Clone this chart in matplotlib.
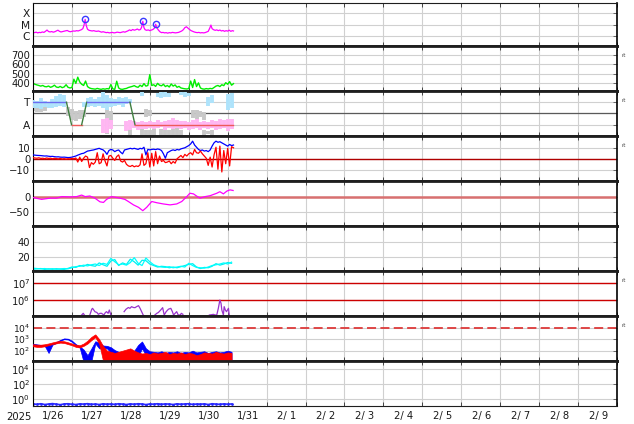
import numpy as np
import matplotlib
matplotlib.use("Agg")
import matplotlib.pyplot as plt
import matplotlib.transforms as mtransforms
from matplotlib.ticker import NullLocator

NAN = np.nan

# ─── Asse tempo: giorni dal 2025-01-26 00:00 ────────────────────────────────
XMAX = 15
year_label = "2025"
day_labels = ["1/26", "1/27", "1/28", "1/29", "1/30", "1/31", "2/ 1", "2/ 2",
              "2/ 3", "2/ 4", "2/ 5", "2/ 6", "2/ 7", "2/ 8", "2/ 9"]

# ─── 1. Raggi X (unità 1e-6 W/m2) ───────────────────────────────────────────
xray_t = [0.00, 0.04, 0.08, 0.12, 0.16, 0.20, 0.24, 0.28, 0.32, 0.36, 0.40, 0.44,
          0.48, 0.52, 0.56, 0.60, 0.64, 0.68, 0.72, 0.76, 0.80, 0.84, 0.88, 0.92,
          0.96, 1.00, 1.04, 1.08, 1.12, 1.16, 1.20, 1.24, 1.28, 1.31, 1.34, 1.37,
          1.40, 1.44, 1.48, 1.52, 1.56, 1.60, 1.64, 1.68, 1.72, 1.76, 1.80, 1.84,
          1.88, 1.92, 1.96, 2.00, 2.04, 2.08, 2.12, 2.16, 2.20, 2.24, 2.28, 2.32,
          2.36, 2.40, 2.44, 2.48, 2.52, 2.56, 2.60, 2.64, 2.68, 2.72, 2.76, 2.79,
          2.82, 2.85, 2.88, 2.92, 2.96, 3.00, 3.04, 3.08, 3.12, 3.15, 3.18, 3.22,
          3.26, 3.30, 3.34, 3.38, 3.42, 3.46, 3.50, 3.54, 3.58, 3.62, 3.66, 3.70,
          3.74, 3.78, 3.82, 3.86, 3.90, 3.94, 3.98, 4.02, 4.06, 4.10, 4.14, 4.18,
          4.22, 4.26, 4.30, 4.34, 4.38, 4.42, 4.46, 4.50, 4.54, 4.57, 4.60, 4.64,
          4.68, 4.72, 4.76, 4.80, 4.84, 4.88, 4.92, 4.96, 5.00, 5.04, 5.08, 5.12,
          5.15]
xray_f = [2.1, 2.0, 2.2, 1.9, 2.1, 2.0, 2.3, 2.1, 2.6, 3.4, 2.5, 2.3,
          2.5, 2.2, 2.4, 2.8, 3.3, 2.6, 2.3, 2.5, 2.7, 2.9, 3.1, 2.6,
          2.4, 2.6, 2.8, 2.7, 3.0, 2.8, 3.2, 3.6, 4.5, 9.0, 30.0, 8.0,
          4.0, 3.2, 3.0, 2.8, 3.0, 2.7, 2.6, 2.8, 2.5, 2.2, 2.4, 2.2,
          2.0, 2.1, 1.9, 2.0, 2.1, 1.9, 2.0, 2.2, 2.1, 2.0, 2.2, 2.4,
          2.2, 2.5, 2.9, 3.5, 3.0, 3.8, 3.3, 3.6, 4.2, 3.4, 3.8, 6.0,
          20.0, 5.5, 3.6, 3.2, 3.5, 3.0, 3.4, 3.8, 5.0, 11.0, 5.5, 3.4,
          2.4, 2.0, 2.1, 1.9, 2.0, 1.8, 2.0, 1.9, 2.1, 2.0, 1.9, 2.0,
          2.1, 2.4, 2.8, 3.6, 5.5, 6.6, 5.0, 3.8, 3.0, 2.6, 2.3, 2.1,
          2.0, 2.1, 1.9, 2.0, 1.9, 2.0, 2.3, 2.6, 5.0, 9.3, 4.5, 3.6,
          3.2, 3.5, 3.0, 3.4, 2.8, 3.1, 2.6, 3.0, 2.7, 3.3, 2.6, 3.0,
          2.8]
flare_t = [1.34, 2.83, 3.16]
flare_f = [30.0, 20.0, 11.0]

# ─── 2. Velocità vento solare (km/s), passo 0.05 giorni ─────────────────────
vsw = [395, 385, 378, 372, 365, 372, 360, 358, 366, 352, 360, 375, 355, 350, 362, 348, 356, 380, 352, 345,
       350, 440, 395, 462, 410, 385, 372, 420, 360, 345, 338, 335, 332, 340, 334, 330, 336, 332, 338, 334,
       382, 335, 330, 418, 345, 332, 330, 336, 340, 350, 356, 362, 370, 358, 352, 375, 360, 392, 365, 372,
       490, 372, 380, 362, 395, 375, 368, 385, 360, 372, 355, 388, 365, 378, 352, 362, 345, 340, 336, 334,
       338, 420, 350, 436, 360, 400, 345, 335, 332, 338, 334, 340, 336, 350, 365, 372, 360, 380, 370, 402,
       385, 414, 375, 392]

# ─── 3. Settore IMF (T = +1, A = -1), passo 0.1 giorni ──────────────────────
tow_lo = [0.45, 0.5, 0.4, 0.55, 0.5, 0.45, 0.6, 0.7, 0.55, NAN, NAN, NAN, NAN, 0.6, 0.55, 0.65, 0.6, 0.7,
          0.5, 0.3, 0.6, 0.7, 0.75, 0.6, 0.8, 0.9, NAN, NAN, 1.55, NAN, NAN, NAN, 1.45, 1.4, 1.5, 1.45,
          NAN, NAN, 1.6, 1.5, 1.55, NAN, NAN, NAN, NAN, 0.7, 0.9, NAN, NAN, NAN, 0.35, 0.5]
tow_hi = [1.2, 1.1, 1.35, 1.15, 1.05, 1.3, 1.55, 1.7, 1.6, NAN, NAN, NAN, NAN, 1.0, 1.35, 1.5, 1.3, 1.45,
          1.9, 1.6, 1.4, 1.3, 1.5, 1.35, 1.5, 1.3, NAN, NAN, 1.9, NAN, NAN, NAN, 1.85, 1.95, 1.9, 1.8,
          NAN, NAN, 1.95, 1.9, 1.85, NAN, NAN, NAN, NAN, 1.5, 1.6, NAN, NAN, NAN, 1.7, 1.8]
awy_lo = [NAN] * 18 + [-1.7, -1.75, -1.4, NAN, NAN, NAN, -1.6, -1.5, -1.3, -1.5, -1.35, -1.4, -1.25,
                       -1.4, -1.3, -1.2, -1.45, -1.3, -1.35, -1.25, -1.4, -1.3, -1.5, -1.35, -1.3, -1.45,
                       -1.3, -1.4, -1.25, -1.5, -1.35, -1.3, -1.55, -1.4]
awy_hi = [NAN] * 18 + [-0.5, -0.4, -0.6, NAN, NAN, NAN, -0.7, -0.6, -0.7, -0.8, -0.65, -0.75, -0.7,
                       -0.8, -0.6, -0.75, -0.7, -0.55, -0.4, -0.6, -0.7, -0.65, -0.8, -0.6, -0.5, -0.75,
                       -0.7, -0.8, -0.6, -0.7, -0.5, -0.6, -0.45, -0.5]
gry_lo = [0.2, 0.15, 0.1, 0.25, NAN, NAN, NAN, NAN, NAN, -0.2, -0.6, -0.7, -0.5, -0.3, NAN, NAN, NAN,
          NAN, NAN, -1.8, -0.9, NAN, NAN, NAN, NAN, NAN, NAN, NAN, NAN, -0.3, -0.2, NAN, NAN, NAN, NAN,
          NAN, NAN, NAN, NAN, NAN, NAN, -0.4, -0.5, -0.3, -0.6, NAN, NAN, NAN, NAN, NAN, NAN, NAN]
gry_hi = [0.7, 0.6, 0.5, 0.6, NAN, NAN, NAN, NAN, NAN, 0.6, 0.4, 0.2, 0.35, 0.3, NAN, NAN, NAN,
          NAN, NAN, 0.4, 0.2, NAN, NAN, NAN, NAN, NAN, NAN, NAN, NAN, 0.4, 0.3, NAN, NAN, NAN, NAN,
          NAN, NAN, NAN, NAN, NAN, NAN, 0.3, 0.35, 0.25, 0.1, NAN, NAN, NAN, NAN, NAN, NAN, NAN]
gry2_lo = [NAN] * 25 + [-1.9, NAN, NAN, -1.95, -1.9, -1.95, -1.9, NAN, -1.95, -1.9, -1.95, -1.9,
                        -1.95, -1.9, NAN, NAN, NAN, NAN, NAN, -1.9, -1.85, -1.9, NAN, NAN, NAN, NAN, NAN]
gry2_hi = [NAN] * 25 + [-1.4, NAN, NAN, -1.4, -1.5, -1.45, -1.4, NAN, -1.35, -1.3, -1.45, -1.4,
                        -1.3, -1.45, NAN, NAN, NAN, NAN, NAN, -1.5, -1.55, -1.5, NAN, NAN, NAN, NAN, NAN]
sector_t = [0.0, 0.86, 0.99, 1.25, 1.38, 2.49, 2.62, 5.14]
sector_v = [1, 1, -1, -1, 1, 1, -1, -1]

# ─── 4. IMF Bt / Bz (nT), passo 0.05 giorni ─────────────────────────────────
bt = [4.0, 3.8, 3.6, 3.5, 3.4, 3.2, 3.0, 3.1, 2.8, 2.6, 2.7, 2.4, 2.2, 2.3, 2.0, 1.9, 2.0, 1.8, 1.6, 1.7,
      2.0, 2.5, 3.0, 3.8, 4.5, 5.2, 5.5, 6.5, 7.5, 7.8, 8.2, 8.5, 9.0, 9.5, 10.0, 9.2, 8.6, 7.0, 4.5, 8.0,
      9.0, 8.5, 7.0, 8.0, 8.5, 6.5, 5.0, 8.5, 9.0, 9.5, 10.0, 9.5, 10.0, 9.5, 9.0, 10.0, 9.5, 11.0, 4.0, 9.0,
      8.6, 9.0, 9.2, 8.8, 9.4, 9.0, 8.0, 5.0, 1.0, 6.0, 7.0, 8.0, 8.6, 8.0, 9.0, 8.5, 9.5, 10.0, 10.5, 11.5,
      12.5, 14.0, 16.5, 13.0, 11.0, 9.0, 8.0, 8.5, 7.5, 8.0, 7.0, 8.5, 12.0, 15.0, 16.5, 15.5, 16.0, 15.0, 14.0, 13.0,
      12.0, 13.5, 12.5, 13.0]
bz = [1.5, 1.2, 1.0, 1.4, 0.8, 1.0, 0.6, 1.2, 0.8, 1.0, 0.5, 0.9, 0.7, 0.4, 0.8, 0.3, 0.6, 0.2, 0.5, 0.4,
      0.8, 0.5, 1.2, -2.5, 2.0, -2.0, 1.0, 3.0, 2.0, -7.5, -3.0, -4.5, -2.5, 6.0, -4.0, -3.0, 5.0, -1.5, -6.0, 3.0,
      3.5, 1.0, -1.0, 2.5, 4.0, -1.5, -2.5, -1.0, -4.5, -6.0, -6.5, -5.5, -6.8, -6.0, -6.5, -5.0, 5.0, -5.5, -4.0, 6.0,
      -7.0, 5.5, -6.0, 7.0, -4.0, 3.0, -2.0, -1.0, -3.0, -2.5, -1.5, -4.0, -2.0, -3.5, 0.5, 2.0, 3.5, 1.5, 4.5, 3.0,
      5.0, 6.0, 4.0, 9.0, 6.0, 5.5, 7.5, 5.0, 3.0, 1.0, -5.5, 2.0, -7.0, 4.0, 11.0, -9.0, 12.0, -11.5, 8.0, -4.0,
      10.0, -6.0, 11.5, 10.5]

# ─── 5. Dst (nT) ────────────────────────────────────────────────────────────
dst_t = [0.00, 0.22, 0.44, 0.61, 0.74, 0.95, 1.12, 1.25, 1.34, 1.46, 1.59, 1.72, 1.81, 1.89, 2.02,
         2.11, 2.23, 2.36, 2.45, 2.58, 2.71, 2.82, 2.92, 3.05, 3.18, 3.35, 3.52, 3.69, 3.82, 3.95,
         4.03, 4.12, 4.20, 4.29, 4.42, 4.55, 4.72, 4.80, 4.89, 4.98, 5.06, 5.14]
dst_v = [-3, -9, -5, -5, 0, -1, 0, 5, 0, 2, -5, -17, -19, -9, 0,
         -2, -5, -9, -16, -27, -35, -46, -35, -16, -20, -24, -27, -24, -16, 0,
         11, 9, 2, -5, 0, 3, 11, 16, 9, 18, 22, 20]

# ─── 6. Indice (due tracce ciano), passo 0.1 giorni ─────────────────────────
cyan_a = [5.5, 5.0, 4.5, 5.0, 4.2, 4.8, 4.0, 4.5, 5.0, 4.6,
          6.0, 7.5, 8.0, 9.5, 8.5, 10.0, 11.0, 9.0, 12.0, 10.5,
          18.5, 14.0, 10.0, 11.0, 9.5, 13.0, 19.5, 12.0, 9.0, 19.0,
          14.0, 10.0, 8.0, 7.0, 6.5, 7.5, 6.0, 7.0, 8.0, 7.0,
          12.0, 9.0, 6.5, 6.0, 5.5, 7.0, 9.0, 10.0, 11.0, 12.5,
          11.0, 13.5]
cyan_b = [4.0, 4.5, 5.0, 3.8, 4.6, 4.0, 4.8, 4.2, 3.8, 5.2,
          7.0, 6.5, 9.0, 8.0, 10.5, 9.0, 8.0, 12.5, 10.0, 8.0,
          15.0, 17.0, 9.0, 12.5, 10.5, 17.5, 14.0, 9.5, 16.0, 15.5,
          11.0, 9.0, 7.0, 8.0, 7.5, 6.0, 7.0, 6.0, 7.5, 9.0,
          10.5, 11.5, 7.0, 5.0, 6.5, 6.0, 8.0, 11.5, 9.5, 11.0,
          13.0, 12.0]

# ─── 7. Flusso elettroni (log10) ────────────────────────────────────────────
elec_t = [1.25, 1.29, 1.32, NAN,
          1.46, 1.51, 1.53, 1.59, 1.64, 1.68, 1.72, 1.76, 1.82, 1.86, 1.89, 1.93, 1.96, 2.00, NAN,
          2.34, 2.39, 2.45, 2.49, 2.53, 2.58, 2.62, 2.66, 2.71, 2.75, 2.79, 2.83, 2.88, NAN,
          3.13, 3.18, 3.22, 3.28, 3.33, 3.37, 3.42, 3.48, 3.54, 3.58, 3.61, 3.65, 3.69, 3.73, 3.78,
          3.81, 3.85, NAN,
          4.53, 4.59, 4.63, 4.68, 4.72, 4.76, 4.80, 4.83, 4.85, 4.89, 4.91, 4.94, 4.97, 5.02, 5.04]
elec_log = [5.1, 5.2, 5.1, NAN,
            5.1, 5.45, 5.5, 5.3, 5.25, 5.14, 5.2, 5.2, 5.1, 5.25, 5.3, 5.2, 5.4, 5.1, NAN,
            5.3, 5.45, 5.55, 5.5, 5.6, 5.55, 5.54, 5.6, 5.66, 5.5, 5.3, 5.1, 5.0, NAN,
            5.1, 5.2, 5.25, 5.4, 5.54, 5.1, 5.3, 5.45, 5.5, 5.3, 5.1, 5.2, 5.3, 5.1, 5.1,
            5.2, 5.14, NAN,
            5.1, 5.12, 5.14, 5.1, 5.1, 5.5, 6.0, 5.8, 5.4, 5.1, 5.6, 5.4, 5.3, 5.5, 5.1]

# ─── 8. Flusso (log10), inviluppo min/max, passo 0.1 giorni ─────────────────
f8_blue_lo = [2.52, 2.47, 2.42, 2.42, 1.8, 2.52, 2.67, 2.87, 3.0, 2.97, 2.77, 2.47, 2.27, 1.0, 1.0, 1.1,
              2.62, 2.2, 2.22, 2.2, 1.8, 1.5, 1.0, 1.0, 1.1, 1.0, 1.2, 1.5, 2.2, 1.6, 1.2,
              1.0, 1.2, 1.0, 1.1, 1.0, 1.3, 1.0, 1.1, 1.0, 1.2, 1.0, 1.1, 1.0, 1.2, 1.0, 1.1,
              1.0, 1.2, 1.0, 1.1, 1.0]
f8_blue_hi = [2.6, 2.55, 2.5, 2.5, 2.5, 2.6, 2.76, 2.94, 3.07, 3.04, 2.87, 2.57, 2.37, 2.1, 1.6, 2.2,
              2.82, 2.7, 2.45, 2.42, 2.3, 2.05, 1.9, 1.8, 1.85, 1.9, 2.0, 2.5, 2.8, 2.2, 1.95,
              1.9, 1.85, 1.95, 1.8, 1.9, 1.85, 1.95, 1.8, 1.9, 1.85, 2.0, 1.85, 1.9, 1.95, 1.8, 1.9,
              1.95, 1.85, 1.9, 2.0, 1.9]
f8_red_lo = [2.38, 2.33, 2.33, 2.38, 2.48, 2.57, 2.64, 2.7, 2.67, 2.57, 2.47, 2.33, 2.28, 2.42, 2.62, 2.92,
             3.17, 2.6, 1.1, 1.0, 1.0, 1.0, 1.05, 1.0, 1.0, 1.1, 1.0, 1.0, 1.05, 1.0, 1.1,
             1.0, 1.0, 1.15, 1.0, 1.05, 1.0, 1.1, 1.0, 1.0, 1.2, 1.0, 1.1, 1.2, 1.0, 1.05, 1.0,
             1.1, 1.0, 1.05, 1.0, 1.1]
f8_red_hi = [2.56, 2.52, 2.52, 2.56, 2.63, 2.72, 2.8, 2.85, 2.82, 2.73, 2.62, 2.52, 2.47, 2.62, 2.87, 3.2,
             3.42, 3.0, 2.4, 2.0, 1.9, 1.8, 1.9, 2.0, 2.1, 2.2, 2.0, 1.85, 1.75, 1.8, 1.7,
             1.85, 1.75, 1.8, 1.9, 1.7, 1.8, 1.75, 1.85, 1.7, 1.8, 1.75, 1.6, 1.7, 1.85, 1.8, 1.75,
             1.9, 1.8, 1.75, 1.85, 1.8]

# ─── 9. Flusso protoni (log10), passo 0.1 giorni ────────────────────────────
prot_log = [-0.62, -0.68, -0.6, -0.7, -0.64, -0.58, -0.66, -0.72, -0.63, -0.6, -0.67, -0.7, -0.62,
            -0.65, -0.59, -0.68, -0.64, -0.7, -0.61, -0.66, -0.63, -0.69, -0.6, -0.65, -0.7, -0.62,
            -0.67, -0.6, -0.64, -0.71, -0.63, -0.66, -0.6, -0.68, -0.62, -0.65, -0.7, -0.61, -0.67,
            -0.63, -0.6, -0.69, -0.64, -0.66, -0.62, -0.7, -0.6, -0.65, -0.68, -0.62, -0.66, -0.63]

# ─── Figura ─────────────────────────────────────────────────────────────────
W, H = 634, 424
EDGES = [3, 46, 91, 136, 181, 226, 271, 316, 361, 406]
X0, X1 = 33, 617
FS = 7.2
FS_LOG = 6.6
GRID = "#d0d0d0"
plt.rcParams["font.family"] = "DejaVu Sans"

fig = plt.figure(figsize=(W / 100, H / 100), dpi=100)
axes = []
for i in range(9):
    top, bot = EDGES[i], EDGES[i + 1]
    ax = fig.add_axes([X0 / W, 1 - bot / H, (X1 - X0) / W, (bot - top) / H])
    ax.set_xlim(0, XMAX)
    ax.set_xticks(range(0, XMAX + 1))
    ax.xaxis.set_minor_locator(NullLocator())
    ax.tick_params(axis="x", direction="in", length=3, width=0.7, color="#444444",
                   top=True, bottom=True, labelbottom=False)
    ax.tick_params(axis="y", which="both", direction="in", length=3, width=0.7,
                   color="#666666", left=False, right=True, labelsize=FS,
                   labelcolor="#1a1a1a", pad=2)
    ax.grid(True, axis="both", color=GRID, lw=0.8, zorder=0)
    ax.set_axisbelow(True)
    for side in ("top", "bottom"):
        ax.spines[side].set_color("#1e1e1e")
    ax.spines["top"].set_linewidth(2.0 if i > 0 else 0.8)
    ax.spines["bottom"].set_linewidth(2.0 if i < 8 else 0.8)
    ax.spines["left"].set_linewidth(0.8)
    ax.spines["right"].set_linewidth(1.2)
    axes.append(ax)

t05 = np.arange(len(vsw)) * 0.05
t10 = np.arange(len(cyan_a)) * 0.1

# 1 — raggi X
ax = axes[0]
ax.set_yscale("log")
ax.set_ylim(10 ** -6.88, 10 ** -3.08)
ax.yaxis.set_minor_locator(NullLocator())
ax.set_yticks([1e-6, 1e-5, 1e-4])
ax.set_yticklabels(["C", "M", "X"], fontsize=FS + 0.5)
ax.plot(xray_t, np.array(xray_f) * 1e-6, color="#ff00ff", lw=0.9)
ax.plot(flare_t, np.array(flare_f) * 1e-6, "o", ms=4.5, mfc="none", mec="#3a3aff", mew=1.0)

# 2 — velocità vento solare
ax = axes[1]
ax.set_ylim(312, 800)
ax.set_yticks([400, 500, 600, 700])
ax.plot(t05, vsw, color="#00ee00", lw=1.0)

# 3 — settore IMF
ax = axes[2]
ax.set_ylim(-2, 2)
ax.set_yticks([1, 0, -1])
ax.set_yticklabels(["T", "", "A"], fontsize=FS + 0.5)
ax.axhline(0, color="#5a5a5a", lw=0.9, zorder=2)
ax.vlines(t10, gry_lo, gry_hi, colors="#c8c8c8", lw=2.8, zorder=2)
ax.vlines(t10, gry2_lo, gry2_hi, colors="#c8c8c8", lw=2.8, zorder=2)
ax.vlines(t10, awy_lo, awy_hi, colors="#ffb6f2", lw=2.8, zorder=3)
ax.vlines(t10, tow_lo, tow_hi, colors="#aee3fb", lw=2.8, zorder=3)
for j in range(len(sector_t) - 1):
    a, b = sector_v[j], sector_v[j + 1]
    col = "#6c6cf0" if a == b == 1 else ("#ee5a5a" if a == b == -1 else "#3f7f3f")
    ax.plot(sector_t[j:j + 2], sector_v[j:j + 2], color=col, lw=1.0, zorder=4)

# 4 — IMF
ax = axes[3]
ax.set_ylim(-19.7, 21.2)
ax.set_yticks([10, 0, -10])
ax.axhline(0, color="#b00000", lw=1.0, zorder=2)
ax.plot(t05, bt, color="#0000ff", lw=0.9, zorder=3)
ax.plot(t05, bz, color="#ff0000", lw=0.9, zorder=4)

# 5 — Dst
ax = axes[4]
ax.set_ylim(-96, 51)
ax.set_yticks([0, -50])
ax.axhline(0, color="#d87070", lw=1.8, zorder=2)
ax.plot(dst_t, dst_v, color="#ff00ff", lw=0.9, zorder=3)

# 6 — indice
ax = axes[5]
ax.set_ylim(1.7, 61.7)
ax.set_yticks([20, 40])
ax.plot(t10, cyan_b, color="#00f0f0", lw=0.9)
ax.plot(t10, cyan_a, color="#00ffff", lw=0.9)

# 7 — elettroni
ax = axes[6]
ax.set_yscale("log")
ax.set_ylim(10 ** 5.04, 10 ** 7.74)
ax.yaxis.set_minor_locator(NullLocator())
ax.set_yticks([1e6, 1e7])
ax.set_yticklabels(["$10^6$", "$10^7$"], fontsize=FS)
ax.axhline(1e7, color="#cc0000", lw=1.0)
ax.axhline(1e6, color="#cc0000", lw=1.0)
ax.plot(elec_t, 10 ** np.array(elec_log), color="#9933cc", lw=0.9)

# 8 — flusso
ax = axes[7]
ax.set_yscale("log")
ax.set_ylim(10 ** 1.1, 10 ** 5.02)
ax.yaxis.set_minor_locator(NullLocator())
ax.set_yticks([1e2, 1e3, 1e4])
ax.set_yticklabels(["$10^2$", "$10^3$", "$10^4$"], fontsize=FS_LOG)
ax.axhline(1e4, color="#dd3a3a", lw=1.3, dashes=(5, 2.4))
ax.fill_between(t10, 10 ** np.array(f8_blue_lo), 10 ** np.array(f8_blue_hi),
                color="#0000ff", lw=0.5, zorder=3)
ax.fill_between(t10, 10 ** np.array(f8_red_lo), 10 ** np.array(f8_red_hi),
                color="#ff0000", lw=0.5, zorder=4)

# 9 — protoni
ax = axes[8]
ax.set_yscale("log")
ax.set_ylim(10 ** -0.9, 10 ** 5.1)
ax.yaxis.set_minor_locator(NullLocator())
ax.set_yticks([1e0, 1e2, 1e4])
ax.set_yticklabels(["$10^0$", "$10^2$", "$10^4$"], fontsize=FS)
ax.plot(t10, 10 ** np.array(prot_log), color="#2828ff", lw=1.2, marker=".", ms=2)

# etichette tempo
trans = mtransforms.blended_transform_factory(axes[-1].transData, fig.transFigure)
ylab = 1 - 416.5 / H
axes[-1].text(-0.36, ylab, year_label, transform=trans, ha="center", va="center",
              fontsize=FS, color="#1a1a1a", clip_on=False)
for k, lab in enumerate(day_labels):
    axes[-1].text(k + 0.52, ylab, lab, transform=trans, ha="center", va="center",
                  fontsize=FS, color="#1a1a1a", clip_on=False)

# etichette "rt" a destra
for i in (1, 2, 3, 6, 7):
    axes[i].text(1.008, 0.78, "rt", transform=axes[i].transAxes, fontsize=4,
                 color="#444444", ha="left", va="center")

fig.savefig("out.png", dpi=100)
